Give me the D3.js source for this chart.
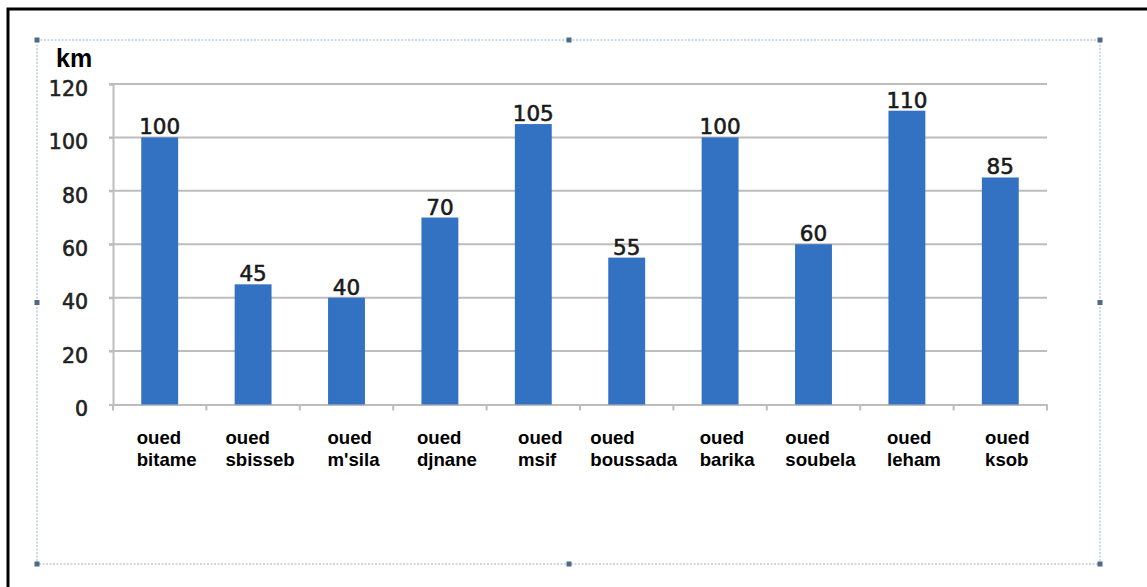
<!DOCTYPE html>
<html>
<head>
<meta charset="utf-8">
<script src="https://cdn.jsdelivr.net/npm/d3@7"></script>
<style>
html,body{margin:0;padding:0;background:#fff;}
svg{display:block;}
</style>
</head>
<body>
<svg id="chart" width="1147" height="587"></svg>
<script>
const categories = ["bitame","sbisseb","m'sila","djnane","msif","boussada","barika","soubela","leham","ksob"];
const prefix = "oued";
const values = [100,45,40,70,105,55,100,60,110,85];
const yTicks = [0,20,40,60,80,100,120];
const yUnit = "km";

(function(){
const svg = d3.select("#chart");
svg.append("rect").attr("width",1147).attr("height",587).attr("fill","#fff");

// outer frame (top and left edges visible)
svg.append("path").attr("d","M8,587 L8,9 L1147,9").attr("fill","none").attr("stroke","#000").attr("stroke-width",3);

// selection box
const sb = {x0:37,y0:40,x1:1100,y1:564};
svg.append("rect").attr("x",sb.x0).attr("y",sb.y0).attr("width",sb.x1-sb.x0).attr("height",sb.y1-sb.y0)
  .attr("fill","none").attr("stroke","#9fb2c6").attr("stroke-width",1).attr("stroke-dasharray","2,1.5");
const xm=(sb.x0+sb.x1)/2+0.5, ym=(sb.y0+sb.y1)/2+0.5;
[[sb.x0,sb.y0],[xm,sb.y0],[sb.x1,sb.y0],[sb.x0,ym],[sb.x1,ym],[sb.x0,sb.y1],[xm,sb.y1],[sb.x1,sb.y1]].forEach(p=>{
  svg.append("rect").attr("x",p[0]-2.5).attr("y",p[1]-2.5).attr("width",5).attr("height",5).attr("fill","#4d6a88");
});

const pLeft=113, pRight=1047, pTop=84, pBottom=404.5;
const x = d3.scaleBand().domain(categories).range([pLeft,pRight]).padding(0);
const y = d3.scaleLinear().domain([0,120]).range([pBottom,pTop]);
const gridColor="#bdbdbd";

// gridlines
svg.append("g").selectAll("line").data(yTicks.filter(t=>t>0)).join("line")
  .attr("x1",pLeft-4).attr("x2",pRight).attr("y1",d=>y(d)).attr("y2",d=>y(d))
  .attr("stroke",gridColor).attr("stroke-width",2);

// y axis
const yAxis = svg.append("g").attr("transform",`translate(${pLeft},0)`)
  .call(d3.axisLeft(y).tickValues(yTicks).tickSize(4).tickPadding(21).tickFormat(d3.format("d")));
yAxis.select(".domain").attr("stroke",gridColor).attr("stroke-width",2);
yAxis.selectAll(".tick line").attr("stroke",gridColor).attr("stroke-width",2);
yAxis.selectAll(".tick text").attr("font-family","DejaVu Sans").attr("font-size",20.5).attr("fill","#222")
  .attr("stroke","#222").attr("stroke-width",0.6)
  .attr("dy","0.55em");

// x axis
const xAxis = svg.append("g").attr("transform",`translate(0,${pBottom})`)
  .call(d3.axisBottom(x).tickSize(0).tickFormat(""));
xAxis.select(".domain").attr("stroke",gridColor).attr("stroke-width",2);
// category boundary ticks
const bounds = categories.map(c=>x(c)).concat([pRight]);
svg.append("g").selectAll("line").data(bounds).join("line")
  .attr("x1",d=>d).attr("x2",d=>d).attr("y1",pBottom).attr("y2",pBottom+6)
  .attr("stroke",gridColor).attr("stroke-width",2);

// bars
const bw = x.bandwidth()*0.395;
svg.append("g").selectAll("rect").data(values).join("rect")
  .attr("x",(d,i)=>x(categories[i])+x.bandwidth()/2-bw/2)
  .attr("width",bw)
  .attr("y",d=>y(d))
  .attr("height",d=>y(0)-y(d))
  .attr("fill","#3371c3");

// value labels
svg.append("g").selectAll("text").data(values).join("text")
  .attr("x",(d,i)=>x(categories[i])+x.bandwidth()/2)
  .attr("y",d=>y(d)-3)
  .attr("text-anchor","middle")
  .attr("font-family","DejaVu Sans").attr("font-size",21.5).attr("fill","#1a1a1a")
  .attr("stroke","#1a1a1a").attr("stroke-width",0.6)
  .text(d=>d);

// unit label
svg.append("text").attr("x",56).attr("y",67).attr("font-family","Liberation Sans, Arial")
  .attr("font-weight","bold").attr("font-size",25).attr("fill","#000").text(yUnit);

// category labels
const lg = svg.append("g");
categories.forEach(c=>{
  const g = lg.append("g");
  const t1 = g.append("text").attr("y",444).text(prefix);
  const t2 = g.append("text").attr("y",466).text(c);
  g.selectAll("text").attr("font-family","Liberation Sans, Arial").attr("font-weight","bold")
    .attr("font-size",18.6).attr("fill","#000");
  const w = Math.max(t1.node().getComputedTextLength(), t2.node().getComputedTextLength());
  const x0 = x(c)+x.bandwidth()/2+7-w/2;
  g.selectAll("text").attr("x",x0);
});
})();
</script>
</body>
</html>
